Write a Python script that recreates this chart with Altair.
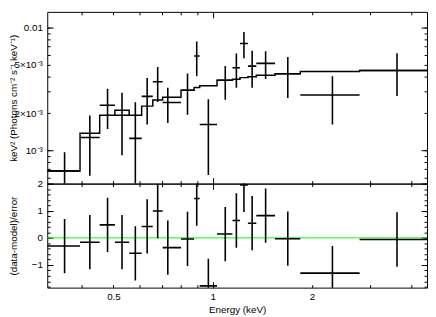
import altair as alt
import pandas as pd

# ---- data (energy in keV) ----
bin_lo = [0.3150, 0.3960, 0.4542, 0.5051, 0.5579, 0.6088, 0.6579, 0.7047, 0.8011, 0.8777,
          0.9128, 1.030, 1.147, 1.209, 1.278, 1.355, 1.544, 1.842, 2.786]
bin_hi = [0.3960, 0.4542, 0.5051, 0.5579, 0.6088, 0.6579, 0.7047, 0.8011, 0.8777, 0.9128,
          1.030, 1.147, 1.209, 1.278, 1.355, 1.544, 1.842, 2.786, 4.474]
energy = [0.3555, 0.4240, 0.4798, 0.5308, 0.5825, 0.6326, 0.6808, 0.7306, 0.8383, 0.8940,
          0.9696, 1.091, 1.179, 1.243, 1.316, 1.446, 1.688, 2.305, 3.617]
flux = [6.79e-4, 1.27e-3, 2.33e-3, 1.93e-3, 1.25e-3, 2.75e-3, 3.62e-3, 2.45e-3, 3.09e-3, 5.86e-3,
        1.62e-3, 3.72e-3, 4.70e-3, 7.41e-3, 4.85e-3, 5.11e-3, 4.21e-3, 2.82e-3, 4.47e-3]
flux_err = [2.85e-4, 6.5e-4, 8.4e-4, 1.02e-3, 1.21e-3, 1.13e-3, 1.15e-3, 7.8e-4, 1.14e-3, 1.85e-3,
            9.9e-4, 1.14e-3, 1.46e-3, 1.79e-3, 1.62e-3, 1.3e-3, 1.54e-3, 1.2e-3, 1.7e-3]
model = [6.79e-4, 1.375e-3, 1.93e-3, 2.12e-3, 1.93e-3, 2.29e-3, 2.57e-3, 2.70e-3, 3.09e-3, 3.25e-3,
         3.36e-3, 3.72e-3, 3.80e-3, 3.91e-3, 3.98e-3, 4.09e-3, 4.21e-3, 4.39e-3, 4.47e-3]
resid = [-0.30, -0.16, 0.48, -0.16, -0.57, 0.42, 0.99, -0.36, -0.04, 1.45,
         -1.77, 0.14, 0.64, 1.95, 0.54, 0.82, -0.03, -1.30, -0.06]
resid_err = [1.0] * 19

x_labels = [0.5, 1, 2]
x_minor = [0.4, 0.5, 0.6, 0.7, 0.8, 0.9, 2, 3, 4]
x_major = [1]
y1_labels = [0.001, 0.002, 0.005, 0.01]
y1_minor = [0.0006, 0.0007, 0.0008, 0.0009, 0.002, 0.003, 0.004, 0.005, 0.006, 0.007, 0.008, 0.009]
y1_major = [0.001, 0.01]
y2_major = [-1, 0, 1, 2]
y2_minor = [-1.8, -1.6, -1.4, -1.2, -0.8, -0.6, -0.4, -0.2, 0.2, 0.4, 0.6, 0.8, 1.2, 1.4, 1.6, 1.8]

df = pd.DataFrame({
    "lo": bin_lo, "hi": bin_hi, "energy": energy,
    "flux": flux,
    "flux_lo": [f - e for f, e in zip(flux, flux_err)],
    "flux_hi": [f + e for f, e in zip(flux, flux_err)],
    "resid": resid,
    "resid_lo": [r - e for r, e in zip(resid, resid_err)],
    "resid_hi": [r + e for r, e in zip(resid, resid_err)],
})
df_model = pd.DataFrame({"e": bin_lo + [bin_hi[-1]], "m": model + [model[-1]]})
df_zero = pd.DataFrame({"z": [0.0]})

W, H1, H2 = 387, 175, 106
FONT = "Liberation Sans"

xs = alt.Scale(type="log", domain=[0.315, 4.46], nice=False)
ys1 = alt.Scale(type="log", domain=[5.35e-4, 0.01343], nice=False)
ys2 = alt.Scale(type="linear", domain=[-1.834, 2.0], nice=False, zero=False)


def ticks_only(orient, values, size):
    return alt.Axis(orient=orient, values=values, tickSize=size, offset=-size,
                    labels=False, domain=False, grid=False, title=None,
                    minExtent=0, maxExtent=0, tickColor="black", tickWidth=1)


TITLE_X = -32

ax_y1_lab = alt.Axis(
    orient="left", values=sorted(set(y1_minor + y1_labels)), tickSize=3, offset=-3,
    labelExpr="datum.value > 0.0099 ? '0.01' : (abs(datum.value - 0.005) < 1e-7 ? '5×10⁻³' : "
              "(abs(datum.value - 0.002) < 1e-7 ? '2×10⁻³' : (abs(datum.value - 0.001) < 1e-7 ? '10⁻³' : '')))",
    labelPadding=5, domain=False, grid=False, labelOverlap=False, labelFlush=False,
    title="keV² (Photons cm⁻² s⁻¹ keV⁻¹)", titleX=TITLE_X, minExtent=0,
    tickColor="black")

ax_y2_lab = alt.Axis(
    orient="left", values=sorted(y2_minor + y2_major), tickSize=3, offset=-3,
    labelExpr="abs(datum.value - round(datum.value)) < 0.001 ? (datum.value < -0.5 ? '−' + abs(round(datum.value)) : '' + round(datum.value)) : ''",
    labelPadding=5, domain=False, grid=False, labelOverlap=False, labelFlush=False,
    title="(data-model)/error", titleX=TITLE_X, minExtent=0, tickColor="black")

ax_x_lab = alt.Axis(
    orient="bottom", values=sorted(x_minor + x_major), tickSize=3, offset=-3,
    labelExpr="(datum.value == 0.5 || datum.value == 1 || datum.value == 2) ? format(datum.value, '~g') : ''",
    labelPadding=4, domain=False, grid=False, labelOverlap=False, labelFlush=False,
    title="Energy (keV)", titlePadding=3, minExtent=0, tickColor="black")

# ---------------- top panel ----------------
model_line = alt.Chart(df_model).mark_line(
    interpolate="step-after", color="black", strokeWidth=1.5, clip=True
).encode(
    x=alt.X("e:Q", scale=xs, axis=ticks_only("bottom", x_minor, 3)),
    y=alt.Y("m:Q", scale=ys1, axis=ax_y1_lab),
)
h_top = alt.Chart(df).mark_rule(color="black", strokeWidth=1.6, clip=True).encode(
    x=alt.X("lo:Q", scale=xs, axis=ticks_only("bottom", x_major, 6)),
    x2="hi:Q",
    y=alt.Y("flux:Q", scale=ys1, axis=ticks_only("left", y1_major, 6)),
)
v_top = alt.Chart(df).mark_rule(color="black", strokeWidth=1.6, clip=True).encode(
    x=alt.X("energy:Q", scale=xs, axis=ticks_only("top", x_minor, 3)),
    y=alt.Y("flux_lo:Q", scale=ys1, axis=ticks_only("right", sorted(set(y1_minor + y1_labels)), 3)),
    y2="flux_hi:Q",
)
d_top = alt.Chart(df).mark_point(opacity=0).encode(
    x=alt.X("energy:Q", scale=xs, axis=ticks_only("top", x_major, 6)),
    y=alt.Y("flux:Q", scale=ys1, axis=ticks_only("right", y1_major, 6)),
)
top = alt.layer(model_line, h_top, v_top, d_top).resolve_axis(
    x="independent", y="independent").properties(width=W, height=H1)

# ---------------- bottom panel ----------------
zero_line = alt.Chart(df_zero).mark_rule(color="#00ff00", strokeWidth=1).encode(
    y=alt.Y("z:Q", scale=ys2, axis=ax_y2_lab),
)
h_bot = alt.Chart(df).mark_rule(color="black", strokeWidth=1.6, clip=True).encode(
    x=alt.X("lo:Q", scale=xs, axis=ax_x_lab),
    x2="hi:Q",
    y=alt.Y("resid:Q", scale=ys2, axis=ticks_only("left", y2_major, 6)),
)
v_bot = alt.Chart(df).mark_rule(color="black", strokeWidth=1.6, clip=True).encode(
    x=alt.X("energy:Q", scale=xs, axis=ticks_only("bottom", x_major, 6)),
    y=alt.Y("resid_lo:Q", scale=ys2, axis=ticks_only("right", sorted(y2_minor + y2_major), 3)),
    y2="resid_hi:Q",
)
d_bot = alt.Chart(df).mark_point(opacity=0).encode(
    x=alt.X("energy:Q", scale=xs, axis=ticks_only("top", x_minor, 3)),
    y=alt.Y("resid:Q", scale=ys2, axis=ticks_only("right", y2_major, 6)),
)
d_bot2 = alt.Chart(df).mark_point(opacity=0).encode(
    x=alt.X("energy:Q", scale=xs, axis=ticks_only("top", x_major, 6)),
    y=alt.Y("resid:Q", scale=ys2, axis=None),
)
bottom = alt.layer(zero_line, h_bot, v_bot, d_bot, d_bot2).resolve_axis(
    x="independent", y="independent").properties(width=W, height=H2)

chart = alt.vconcat(top, bottom, spacing=0, bounds="flush").properties(
    padding={"left": 0, "top": 0, "right": 0, "bottom": 0}
).configure(font=FONT).configure_view(
    stroke="black", strokeWidth=1
).configure_axis(
    labelFont=FONT, titleFont=FONT, labelFontSize=10, titleFontSize=10,
    labelColor="black", titleColor="black", titleFontWeight="normal",
)

chart.save("out.html", embed_options={"renderer": "svg", "actions": False})
